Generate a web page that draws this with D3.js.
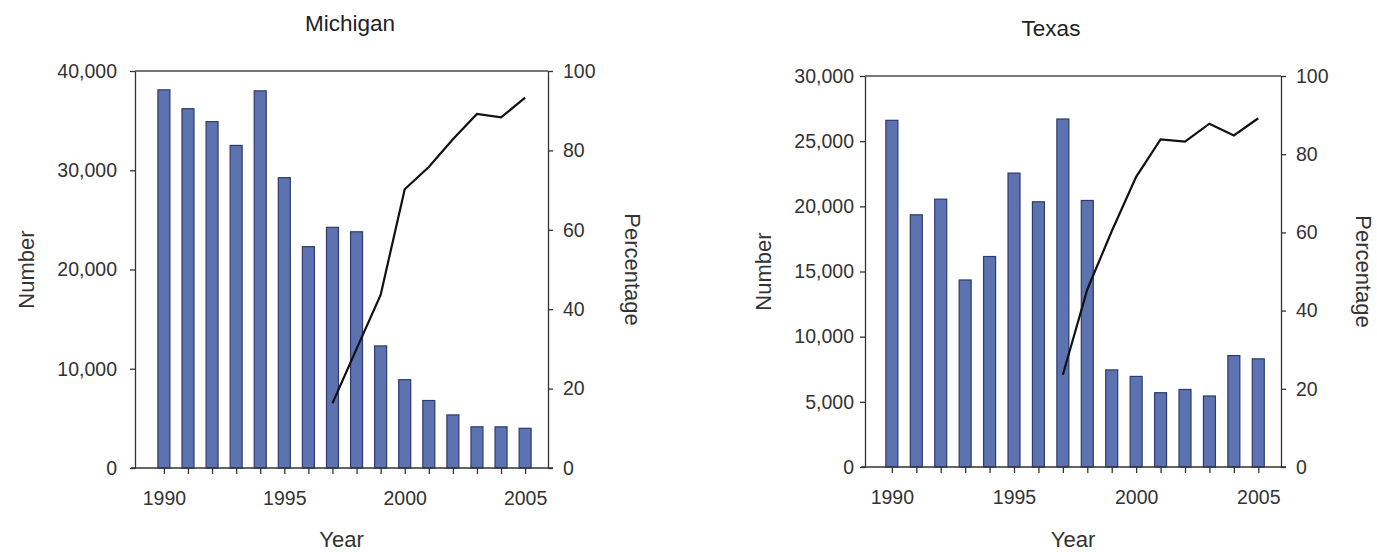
<!DOCTYPE html>
<meta charset="utf-8">
<style>
body { margin: 0; background: #fff; }
text { font-family: "Liberation Sans", Arial, sans-serif; fill: #222; }
.bar { fill: #5d72b0; stroke: #2e3b6b; stroke-width: 1.2px; }
.pct { fill: none; stroke: #111; stroke-width: 2.2px; }
.axis path, .axis line { stroke: #333; stroke-width: 1.3px; }
.axis text { font-size: 19.5px; fill: #333; }
.frame { stroke: #777; stroke-width: 2px; }
.title { font-size: 22.5px; text-anchor: middle; }
.label { font-size: 22px; text-anchor: middle; fill: #333; }
</style>
<svg width="1377" height="552"></svg>
<script src="https://d3js.org/d3.v7.min.js"></script>
<script>

var years = d3.range(1990, 2006);
var yearTicks = [1990, 1995, 2000, 2005];

// Michigan
var miNumber = [38100, 36200, 34900, 32500, 38000, 29250, 22300, 24250, 23800, 12300, 8900, 6800, 5350, 4150, 4150, 4000];
var miPctYears = [1997, 1998, 1999, 2000, 2001, 2002, 2003, 2004, 2005];
var miPct = [16.3, 30, 43.6, 70.2, 75.8, 82.8, 89.2, 88.3, 93.3];
var miNumberTicks = [0, 10000, 20000, 30000, 40000];

// Texas
var txNumber = [26600, 19350, 20550, 14350, 16150, 22550, 20350, 26700, 20450, 7450, 6950, 5700, 5950, 5450, 8550, 8300];
var txPctYears = [1997, 1998, 1999, 2000, 2001, 2002, 2003, 2004, 2005];
var txPct = [23.6, 45.4, 60.3, 74.2, 83.8, 83.2, 87.8, 84.8, 89.2];
var txNumberTicks = [0, 5000, 10000, 15000, 20000, 25000, 30000];

var pctTicks = [0, 20, 40, 60, 80, 100];

var svg = d3.select("svg"),
    format = d3.format(",");

function drawChart(o) {
  var g = svg.append("g");

  var x = d3.scaleLinear().domain(o.xDomain).range([o.left, o.right]);
  var y = d3.scaleLinear().domain([0, o.maxNumber]).range([o.bottom, o.top]);
  var y2 = d3.scaleLinear().domain([0, 100]).range([o.bottom, o.top]);

  // top border
  g.append("line").attr("class", "frame")
      .attr("x1", o.left).attr("x2", o.right)
      .attr("y1", o.top).attr("y2", o.top);

  g.selectAll(".bar")
    .data(o.number)
    .enter().append("rect")
      .attr("class", "bar")
      .attr("x", function(d, i) { return x(years[i]) - 6; })
      .attr("width", 12)
      .attr("y", function(d) { return y(d); })
      .attr("height", function(d) { return o.bottom - y(d); });

  var line = d3.line()
      .x(function(d, i) { return x(o.pctYears[i]); })
      .y(function(d) { return y2(d); });

  g.append("path").attr("class", "pct").attr("d", line(o.pct));

  // x axis
  g.append("g").attr("class", "axis")
      .attr("transform", "translate(0," + o.bottom + ")")
      .call(d3.axisBottom(x).tickValues(years).tickSize(6).tickSizeOuter(0)
        .tickFormat(function(d) { return yearTicks.indexOf(d) >= 0 ? d : ""; }))
      .call(function(a) {
        a.select(".domain").remove();
        a.selectAll(".tick text").attr("dy", "1.45em");
      });
  g.append("line")
      .attr("stroke", "#333").attr("stroke-width", 1.5)
      .attr("x1", o.left - 4).attr("x2", o.right + 5)
      .attr("y1", o.bottom).attr("y2", o.bottom);

  // left axis
  g.append("g").attr("class", "axis")
      .attr("transform", "translate(" + o.left + ",0)")
      .call(d3.axisLeft(y).tickValues(o.numberTicks).tickSize(5).tickSizeOuter(0)
        .tickPadding(o.leftPad).tickFormat(format));

  // right axis
  g.append("g").attr("class", "axis")
      .attr("transform", "translate(" + o.right + ",0)")
      .call(d3.axisRight(y2).tickValues(pctTicks).tickSize(5).tickSizeOuter(0)
        .tickPadding(10));

  g.append("text").attr("class", "title")
      .attr("x", o.titleX).attr("y", o.titleY).text(o.title);

  g.append("text").attr("class", "label")
      .attr("x", (o.left + o.right) / 2).attr("y", 547).text("Year");

  g.append("text").attr("class", "label")
      .attr("transform", "translate(" + o.numberX + "," + ((o.top + o.bottom) / 2) + ")rotate(-90)")
      .attr("dy", "0.35em")
      .text("Number");

  g.append("text").attr("class", "label")
      .attr("transform", "translate(" + o.pctX + "," + ((o.top + o.bottom) / 2) + ")rotate(90)")
      .attr("dy", "0.35em")
      .text("Percentage");
}

drawChart({
  title: "Michigan", titleX: 350, titleY: 31,
  left: 135, right: 548, top: 71, bottom: 468,
  xDomain: [1988.8, 2005.95], maxNumber: 40000,
  number: miNumber, pctYears: miPctYears, pct: miPct,
  numberTicks: miNumberTicks, leftPad: 13,
  numberX: 26, pctX: 633
});

drawChart({
  title: "Texas", titleX: 1051, titleY: 36,
  left: 865, right: 1281, top: 76, bottom: 467,
  xDomain: [1988.9, 2005.93], maxNumber: 30000,
  number: txNumber, pctYears: txPctYears, pct: txPct,
  numberTicks: txNumberTicks, leftPad: 6,
  numberX: 763, pctX: 1364
});

</script>
